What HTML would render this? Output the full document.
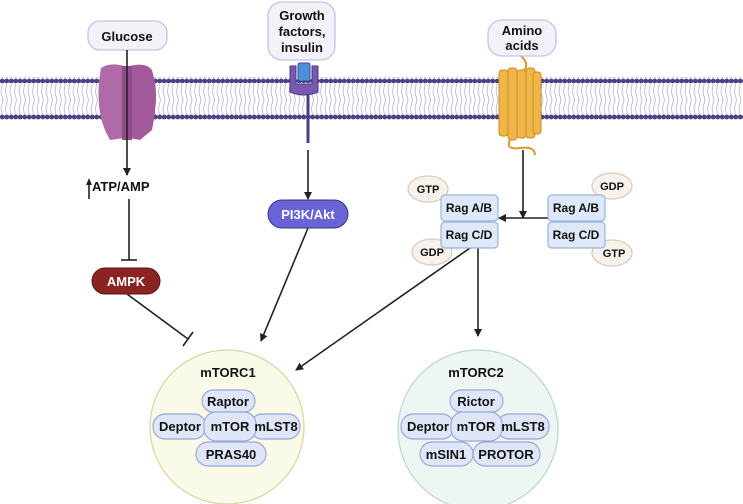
<!DOCTYPE html>
<html><head><style>body{margin:0;background:#fff}svg{display:block;font-family:"Liberation Sans",sans-serif;font-weight:bold}</style></head><body>
<svg width="743" height="504" viewBox="0 0 743 504" xmlns="http://www.w3.org/2000/svg">
<defs>
<marker id="a" markerWidth="8" markerHeight="8" refX="7" refY="4" orient="auto" markerUnits="userSpaceOnUse"><path d="M0,0 L8,4 L0,8 Z" fill="#222"/></marker>
<pattern id="tails" width="4.5" height="40" patternUnits="userSpaceOnUse"><path d="M2.2,3 L1,12 L3,20 M2.2,37 L1,28 L3,20" stroke="#b9b2d6" stroke-width="0.8" fill="none"/></pattern>
<pattern id="heads" width="4.5" height="6" patternUnits="userSpaceOnUse"><circle cx="2.25" cy="3" r="2.4" fill="#4f3f86"/></pattern>
</defs>
<rect x="0" y="80" width="743" height="38" fill="url(#tails)"/>
<rect x="0" y="77" width="743" height="6" fill="url(#heads)"/>
<rect x="0" y="114" width="743" height="6" fill="url(#heads)"/>
<!-- glucose transporter -->
<path d="M101,68 Q110,62 124,66 L124,138 L110,140 Q104,130 101,118 Q96,95 101,68Z" fill="#b06aa8"/>
<path d="M130,66 Q146,62 152,70 L155,82 Q158,100 152,130 L140,140 L130,138Z" fill="#a35a9c"/>
<rect x="122" y="66" width="10" height="74" fill="#8f4c88"/>
<!-- receptor -->
<path d="M290,66 L296,66 L296,84 L312,84 L312,66 L318,66 L318,92 Q304,98 290,92Z" fill="#7a57b0" stroke="#4f3a86" stroke-width="1"/>
<rect x="298" y="63" width="12" height="18" rx="2" fill="#4f8fd8" stroke="#2f4f90"/>
<line x1="308" y1="95" x2="308" y2="143" stroke="#4f3a86" stroke-width="3"/>
<!-- amino acid transporter -->
<path d="M520,55 Q530,64 524,70" stroke="#d69a2a" stroke-width="2" fill="none"/>
<g fill="#f0b64a" stroke="#c8901e" stroke-width="1">
<rect x="499" y="70" width="9" height="66" rx="3"/><rect x="508" y="68" width="9" height="72" rx="3"/>
<rect x="517" y="70" width="9" height="68" rx="3"/><rect x="526" y="68" width="9" height="70" rx="3"/>
<rect x="533" y="72" width="8" height="62" rx="3"/></g>
<path d="M510,140 Q505,150 520,148 Q535,146 535,155" stroke="#d69a2a" stroke-width="2" fill="none"/>
<!-- label boxes -->
<g fill="#f3f2fb" stroke="#c6c3e3" stroke-width="1.3">
<rect x="88" y="21" width="79" height="29" rx="12"/>
<rect x="268" y="2" width="67" height="58" rx="14"/>
<rect x="488" y="20" width="68" height="36" rx="14"/>
</g>
<g font-size="13" text-anchor="middle" fill="#111">
<text x="127" y="41">Glucose</text>
<text x="302" y="20">Growth</text><text x="302" y="36">factors,</text><text x="302" y="52">insulin</text>
<text x="522" y="35">Amino</text><text x="522" y="50">acids</text>
</g>
<!-- connectors -->
<g stroke="#222" stroke-width="1.6" fill="none">
<line x1="127" y1="50" x2="127" y2="175" marker-end="url(#a)"/>
<line x1="89" y1="199" x2="89" y2="182"/>
<path d="M86,185 L89,178 L92,185" fill="#222" stroke="none"/>
<line x1="129" y1="199" x2="129" y2="260"/><line x1="121" y1="260" x2="137" y2="260"/>
<line x1="308" y1="150" x2="308" y2="199" marker-end="url(#a)"/>
<line x1="308" y1="228" x2="261" y2="341" marker-end="url(#a)"/>
<line x1="127" y1="294" x2="188" y2="339"/><line x1="183" y1="346" x2="193" y2="332"/>
<line x1="523" y1="150" x2="523" y2="218" marker-end="url(#a)"/>
<line x1="548" y1="218" x2="499" y2="218" marker-end="url(#a)"/>
<line x1="470" y1="248" x2="296" y2="370" marker-end="url(#a)"/>
<line x1="478" y1="248" x2="478" y2="336" marker-end="url(#a)"/>
</g>
<text x="92" y="191" font-size="13" fill="#111">ATP/AMP</text>
<rect x="92" y="268" width="68" height="26" rx="13" fill="#8b2323" stroke="#5a1515"/>
<text x="126" y="286" font-size="13" text-anchor="middle" fill="#fff">AMPK</text>
<rect x="268" y="200" width="80" height="28" rx="14" fill="#6a63d6" stroke="#3c358f"/>
<text x="308" y="219" font-size="13" text-anchor="middle" fill="#fff">PI3K/Akt</text>
<!-- Rag -->
<g fill="#f7f2ec" stroke="#d8c9b8" stroke-width="1.2">
<ellipse cx="428" cy="189" rx="20" ry="13"/><ellipse cx="432" cy="252" rx="20" ry="13"/>
<ellipse cx="612" cy="186" rx="20" ry="13"/><ellipse cx="612" cy="253" rx="20" ry="13"/>
</g>
<g fill="#dde8f8" stroke="#9db3dc" stroke-width="1.2">
<rect x="441" y="195" width="57" height="26" rx="4"/><rect x="441" y="222" width="57" height="26" rx="4"/>
<rect x="548" y="195" width="57" height="26" rx="4"/><rect x="548" y="222" width="57" height="26" rx="4"/>
</g>
<g font-size="12" text-anchor="middle" fill="#111">
<text x="469" y="212">Rag A/B</text><text x="469" y="239">Rag C/D</text>
<text x="576" y="212">Rag A/B</text><text x="576" y="239">Rag C/D</text>
<text x="428" y="193" font-size="11">GTP</text><text x="432" y="256" font-size="11">GDP</text>
<text x="612" y="190" font-size="11">GDP</text><text x="614" y="257" font-size="11">GTP</text>
</g>
<!-- complexes -->
<circle cx="227" cy="427" r="77" fill="#fafae9" stroke="#d9d8a8" stroke-width="1.3"/>
<circle cx="478" cy="430" r="80" fill="#eef6f4" stroke="#bcd8d0" stroke-width="1.3"/>
<g fill="#dfe6f7" stroke="#9aa8d8" stroke-width="1.2">
<rect x="202" y="390" width="53" height="22" rx="11"/>
<rect x="153" y="414" width="53" height="25" rx="12"/><rect x="250" y="414" width="50" height="25" rx="12"/><rect x="204" y="412" width="52" height="29" rx="12"/>
<rect x="196" y="442" width="70" height="24" rx="12"/>
<rect x="450" y="390" width="53" height="22" rx="11"/>
<rect x="401" y="414" width="53" height="25" rx="12"/><rect x="497" y="414" width="52" height="25" rx="12"/><rect x="451" y="412" width="51" height="29" rx="12"/>
<rect x="420" y="442" width="53" height="24" rx="12"/><rect x="473" y="442" width="67" height="24" rx="12"/>
</g>
<g font-size="13" text-anchor="middle" fill="#111">
<text x="228" y="377">mTORC1</text><text x="228" y="406">Raptor</text>
<text x="180" y="431">Deptor</text><text x="230" y="431">mTOR</text><text x="276" y="431">mLST8</text>
<text x="231" y="459">PRAS40</text>
<text x="476" y="377">mTORC2</text><text x="476" y="406">Rictor</text>
<text x="428" y="431">Deptor</text><text x="476" y="431">mTOR</text><text x="523" y="431">mLST8</text>
<text x="446" y="459">mSIN1</text><text x="506" y="459">PROTOR</text>
</g>
</svg>
</body></html>
